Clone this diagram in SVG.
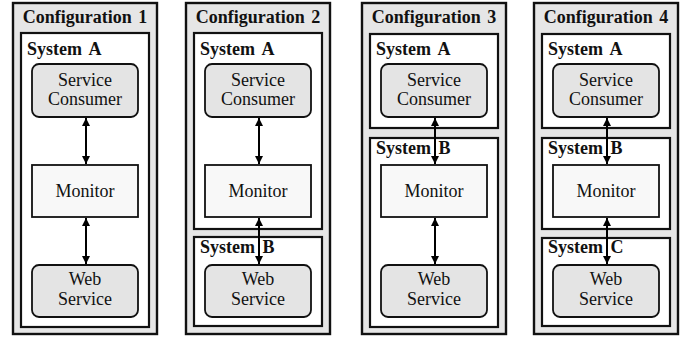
<svg xmlns="http://www.w3.org/2000/svg" width="688" height="339" viewBox="0 0 688 339" font-family="Liberation Serif, DejaVu Serif, serif">
<style>
.cfg{fill:#e6e6e6;stroke:#111;stroke-width:2.4}
.sys{fill:#fff;stroke:#111;stroke-width:2.2}
.svc{fill:#e4e4e4;stroke:#111;stroke-width:1.8}
.mon{fill:#f8f8f8;stroke:#111;stroke-width:1.8}
.title{font-weight:bold;font-size:18px;word-spacing:2px;text-anchor:middle;fill:#111}
.slab{font-weight:bold;font-size:18px;word-spacing:3px;fill:#111}
.ntxt{font-size:18px;text-anchor:middle;fill:#111}
.conn{stroke:#000;stroke-width:2;fill:none;marker-start:url(#ah);marker-end:url(#ah)}
</style>
<defs>
<marker id="ah" viewBox="0 0 10 10" refX="10" refY="5" markerWidth="9" markerHeight="8" markerUnits="userSpaceOnUse" orient="auto-start-reverse">
<path d="M0,0 L10,5 L0,10 z" fill="#000"/>
</marker>
</defs>
<!-- Configuration 1 -->
<g id="config1" transform="translate(13,0)">
<rect class="cfg" x="0" y="3" width="144" height="331"/>
<text class="title" x="72" y="23" font-family="Liberation Serif">Configuration 1</text>
<g id="c1-sysA"><rect class="sys" x="8" y="33" width="128" height="294"/><text class="slab" x="14" y="55" font-family="Liberation Serif">System A</text></g>
<g id="c1-consumer"><rect class="svc" x="19" y="64" width="106" height="53" rx="7"/><text class="ntxt" x="72" y="86" font-family="Liberation Serif">Service</text><text class="ntxt" x="72" y="105" font-family="Liberation Serif">Consumer</text></g>
<g id="c1-monitor"><rect class="mon" x="19" y="165" width="106" height="52"/><text class="ntxt" x="72" y="197" font-family="Liberation Serif">Monitor</text></g>
<g id="c1-web"><rect class="svc" x="19" y="265" width="106" height="52" rx="7"/><text class="ntxt" x="72" y="285" font-family="Liberation Serif">Web</text><text class="ntxt" x="72" y="305" font-family="Liberation Serif">Service</text></g>
</g>

<!-- Configuration 2 -->
<g id="config2" transform="translate(186,0)">
<rect class="cfg" x="0" y="3" width="144" height="331"/>
<text class="title" x="72" y="23" font-family="Liberation Serif">Configuration 2</text>
<g id="c2-sysA"><rect class="sys" x="8" y="33" width="128" height="196"/><text class="slab" x="14" y="55" font-family="Liberation Serif">System A</text></g>
<g id="c2-sysB"><rect class="sys" x="8" y="237" width="128" height="89"/><text class="slab" x="14" y="253" font-family="Liberation Serif">System B</text></g>
<g id="c2-consumer"><rect class="svc" x="19" y="64" width="106" height="53" rx="7"/><text class="ntxt" x="72" y="86" font-family="Liberation Serif">Service</text><text class="ntxt" x="72" y="105" font-family="Liberation Serif">Consumer</text></g>
<g id="c2-monitor"><rect class="mon" x="19" y="165" width="106" height="52"/><text class="ntxt" x="72" y="197" font-family="Liberation Serif">Monitor</text></g>
<g id="c2-web"><rect class="svc" x="19" y="265" width="106" height="52" rx="7"/><text class="ntxt" x="72" y="285" font-family="Liberation Serif">Web</text><text class="ntxt" x="72" y="305" font-family="Liberation Serif">Service</text></g>
</g>

<!-- Configuration 3 -->
<g id="config3" transform="translate(362,0)">
<rect class="cfg" x="0" y="3" width="144" height="331"/>
<text class="title" x="72" y="23" font-family="Liberation Serif">Configuration 3</text>
<g id="c3-sysA"><rect class="sys" x="8" y="34" width="128" height="94"/><text class="slab" x="14" y="55" font-family="Liberation Serif">System A</text></g>
<g id="c3-sysB"><rect class="sys" x="8" y="138" width="128" height="189"/><text class="slab" x="14" y="154" font-family="Liberation Serif">System B</text></g>
<g id="c3-consumer"><rect class="svc" x="19" y="64" width="106" height="53" rx="7"/><text class="ntxt" x="72" y="86" font-family="Liberation Serif">Service</text><text class="ntxt" x="72" y="105" font-family="Liberation Serif">Consumer</text></g>
<g id="c3-monitor"><rect class="mon" x="19" y="165" width="106" height="52"/><text class="ntxt" x="72" y="197" font-family="Liberation Serif">Monitor</text></g>
<g id="c3-web"><rect class="svc" x="19" y="265" width="106" height="52" rx="7"/><text class="ntxt" x="72" y="285" font-family="Liberation Serif">Web</text><text class="ntxt" x="72" y="305" font-family="Liberation Serif">Service</text></g>
</g>

<!-- Configuration 4 -->
<g id="config4" transform="translate(534,0)">
<rect class="cfg" x="0" y="3" width="144" height="331"/>
<text class="title" x="72" y="23" font-family="Liberation Serif">Configuration 4</text>
<g id="c4-sysA"><rect class="sys" x="8" y="34" width="128" height="94"/><text class="slab" x="14" y="55" font-family="Liberation Serif">System A</text></g>
<g id="c4-sysB"><rect class="sys" x="8" y="138" width="128" height="91"/><text class="slab" x="14" y="154" font-family="Liberation Serif">System B</text></g>
<g id="c4-sysC"><rect class="sys" x="8" y="238" width="128" height="88"/><text class="slab" x="14" y="253" font-family="Liberation Serif">System C</text></g>
<g id="c4-consumer"><rect class="svc" x="19" y="64" width="106" height="53" rx="7"/><text class="ntxt" x="72" y="86" font-family="Liberation Serif">Service</text><text class="ntxt" x="72" y="105" font-family="Liberation Serif">Consumer</text></g>
<g id="c4-monitor"><rect class="mon" x="19" y="165" width="106" height="52"/><text class="ntxt" x="72" y="197" font-family="Liberation Serif">Monitor</text></g>
<g id="c4-web"><rect class="svc" x="19" y="265" width="106" height="52" rx="7"/><text class="ntxt" x="72" y="285" font-family="Liberation Serif">Web</text><text class="ntxt" x="72" y="305" font-family="Liberation Serif">Service</text></g>
</g>

<g id="connectors">
<line class="conn" x1="86" y1="118" x2="86" y2="164"/>
<line class="conn" x1="86" y1="218" x2="86" y2="264"/>
<line class="conn" x1="259" y1="118" x2="259" y2="164"/>
<line class="conn" x1="259" y1="218" x2="259" y2="264"/>
<line class="conn" x1="435" y1="118" x2="435" y2="164"/>
<line class="conn" x1="435" y1="218" x2="435" y2="264"/>
<line class="conn" x1="607" y1="118" x2="607" y2="164"/>
<line class="conn" x1="607" y1="218" x2="607" y2="264"/>
</g>
</svg>
